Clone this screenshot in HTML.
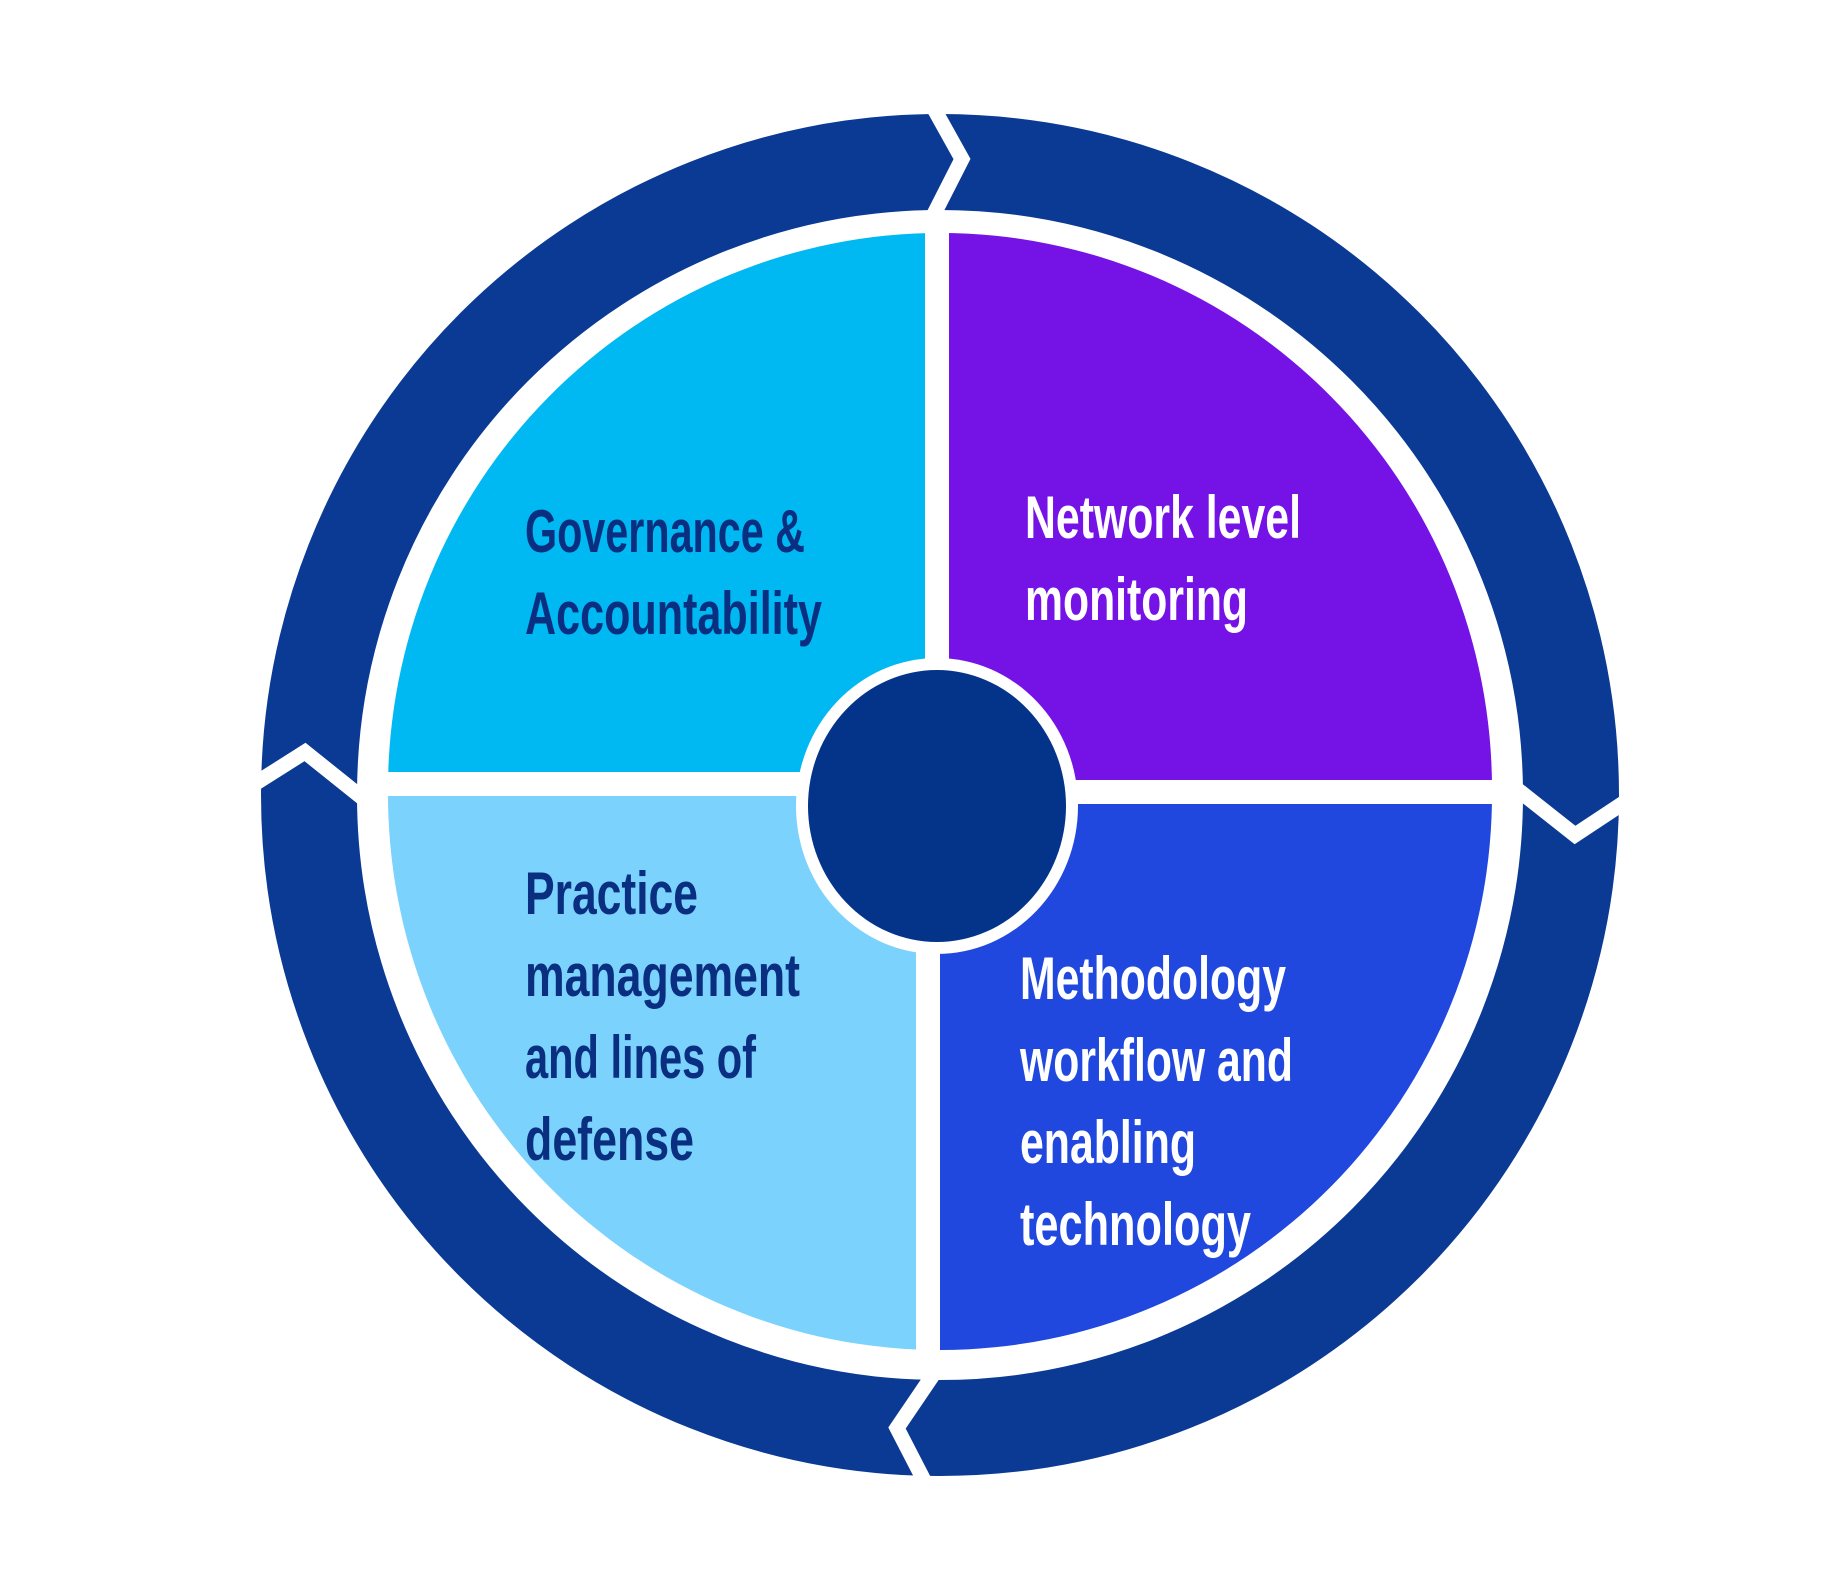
<!DOCTYPE html>
<html><head><meta charset="utf-8"><style>
html,body{margin:0;padding:0;background:#fff;}
svg{display:block;}
text{font-family:"Liberation Sans Narrow","Liberation Sans",sans-serif;font-weight:bold;font-size:60px;}
</style></head><body>
<svg width="1833" height="1590" viewBox="0 0 1833 1590" xmlns="http://www.w3.org/2000/svg">
<rect width="1833" height="1590" fill="#fff"/>
<ellipse cx="940" cy="795" rx="631" ry="633" fill="none" stroke="#0b3a95" stroke-width="96"/>
<g fill="none" stroke="#fff" stroke-width="15" stroke-linejoin="miter">
<polyline points="928,98 962,159 932,218"/>
<polyline points="1518,790 1575,835 1640,792"/>
<polyline points="935,1372 897,1428 930,1492"/>
<polyline points="245,790 305,752 365,800"/>
</g>
<path d="M940,795 L940,233 A552,556 0 0 0 388,790 Z" fill="#00b8f2"/>
<path d="M940,795 L940,233 A552,556 0 0 1 1492,790 Z" fill="#7513e6"/>
<path d="M940,795 L388,790 A552,556 0 0 0 940,1350 Z" fill="#7bd2fc"/>
<path d="M940,795 L1492,790 A552,556 0 0 1 940,1350 Z" fill="#2048df"/>
<g stroke="#fff" stroke-width="24">
<line x1="937" y1="220" x2="937" y2="800"/>
<line x1="928" y1="800" x2="928" y2="1370"/>
<line x1="370" y1="784" x2="940" y2="784"/>
<line x1="940" y1="792" x2="1510" y2="792"/>
</g>
<ellipse cx="937" cy="806" rx="141" ry="148" fill="#fff"/>
<ellipse cx="937" cy="806" rx="129" ry="136" fill="#04338a"/>
<g fill="#0a2f80">
<text x="525" y="552" textLength="280" lengthAdjust="spacingAndGlyphs">Governance &amp;</text>
<text x="525" y="634" textLength="297" lengthAdjust="spacingAndGlyphs">Accountability</text>
<text x="525" y="914" textLength="173" lengthAdjust="spacingAndGlyphs">Practice</text>
<text x="525" y="996" textLength="275" lengthAdjust="spacingAndGlyphs">management</text>
<text x="525" y="1078" textLength="231" lengthAdjust="spacingAndGlyphs">and lines of</text>
<text x="525" y="1160" textLength="169" lengthAdjust="spacingAndGlyphs">defense</text>
</g>
<g fill="#fff">
<text x="1025" y="538" textLength="276" lengthAdjust="spacingAndGlyphs">Network level</text>
<text x="1025" y="620" textLength="223" lengthAdjust="spacingAndGlyphs">monitoring</text>
<text x="1020" y="999" textLength="266" lengthAdjust="spacingAndGlyphs">Methodology</text>
<text x="1020" y="1081" textLength="273" lengthAdjust="spacingAndGlyphs">workflow and</text>
<text x="1020" y="1163" textLength="176" lengthAdjust="spacingAndGlyphs">enabling</text>
<text x="1020" y="1245" textLength="231" lengthAdjust="spacingAndGlyphs">technology</text>
</g>
</svg>
</body></html>
